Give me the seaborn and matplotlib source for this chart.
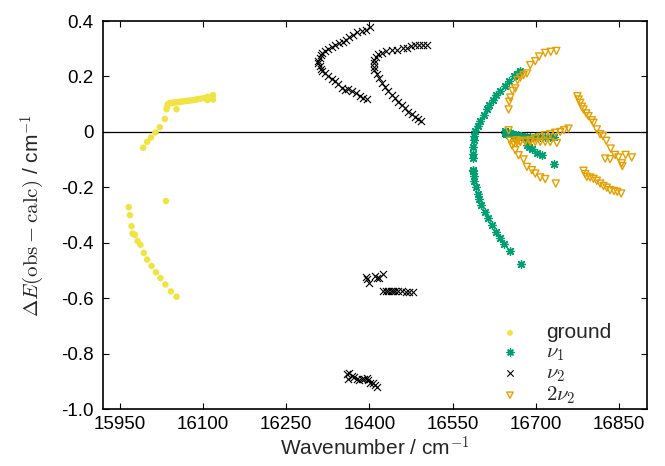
import pandas as pd
import seaborn as sns
import matplotlib.pyplot as plt

# (wavenumber / cm-1, obs - calc / cm-1)
ground = [
    (15992, -0.057), (15999, -0.036), (16006, -0.020), (16014, -0.002),
    (16022, 0.017), (16031, 0.047), (16034, 0.082), (16035, 0.090),
    (16036, 0.099), (16039, 0.103), (16042, 0.104), (16045, 0.105),
    (16048, 0.106), (16052, 0.107), (16055, 0.108), (16059, 0.109),
    (16063, 0.110), (16067, 0.111), (16071, 0.112), (16075, 0.113),
    (16080, 0.114), (16085, 0.116), (16090, 0.118), (16095, 0.120),
    (16101, 0.122), (16108, 0.127), (16108, 0.115), (16118, 0.133),
    (16118, 0.117), (16052, 0.082), (16033, -0.249),
    (15966, -0.271), (15968, -0.300), (15971, -0.340), (15973, -0.366),
    (15977, -0.371), (15982, -0.393), (15987, -0.407), (15993, -0.436),
    (15999, -0.460), (16007, -0.483), (16015, -0.506), (16023, -0.527),
    (16032, -0.550), (16042, -0.575), (16052, -0.594),
]

nu1 = [
    (16672, 0.220), (16666, 0.210), (16660, 0.201), (16652, 0.184),
    (16645, 0.165), (16636, 0.148), (16628, 0.133), (16622, 0.115),
    (16616, 0.097), (16612, 0.081), (16606, 0.061), (16600, 0.040),
    (16595, 0.021), (16591, 0.002), (16589, -0.015), (16588, -0.030),
    (16587, -0.056), (16586, -0.080), (16586, -0.093), (16586, -0.138),
    (16587, -0.142), (16589, -0.160), (16589, -0.176), (16592, -0.198),
    (16595, -0.222), (16598, -0.243), (16602, -0.264), (16608, -0.288),
    (16614, -0.312), (16621, -0.336), (16628, -0.360), (16635, -0.384),
    (16643, -0.405), (16653, -0.428), (16673, -0.477),
    (16644, 0.004), (16645, -0.004), (16647, -0.008), (16650, 0.000),
    (16653, -0.003), (16656, -0.006), (16659, -0.008), (16662, -0.010),
    (16665, -0.013), (16668, -0.012), (16671, -0.015), (16674, -0.016),
    (16677, -0.018), (16680, -0.017), (16684, -0.018), (16690, -0.020),
    (16699, -0.020), (16708, -0.018), (16717, -0.018), (16726, -0.018),
    (16732, -0.020),
    (16684, -0.048), (16688, -0.054), (16693, -0.060), (16702, -0.075),
    (16711, -0.084), (16732, -0.116),
]

nu2 = [
    # left arc
    (16401, 0.379), (16394, 0.369), (16387, 0.365), (16378, 0.359),
    (16371, 0.350), (16364, 0.343), (16358, 0.333), (16352, 0.326),
    (16345, 0.319), (16338, 0.312), (16332, 0.307), (16326, 0.300),
    (16320, 0.292), (16315, 0.283), (16312, 0.276), (16310, 0.266),
    (16308, 0.256), (16308, 0.247), (16310, 0.237), (16312, 0.228),
    (16315, 0.220), (16320, 0.211), (16326, 0.201), (16332, 0.192),
    (16338, 0.182), (16344, 0.172), (16350, 0.160), (16356, 0.153),
    (16362, 0.155), (16368, 0.148), (16376, 0.139), (16383, 0.130),
    (16389, 0.124), (16396, 0.118),
    # right arc
    (16503, 0.315), (16497, 0.315), (16490, 0.315), (16482, 0.313),
    (16475, 0.309), (16467, 0.304), (16460, 0.301), (16449, 0.297),
    (16440, 0.295), (16430, 0.291), (16422, 0.285), (16416, 0.280),
    (16411, 0.271), (16409, 0.261), (16408, 0.249), (16408, 0.235),
    (16409, 0.223), (16413, 0.208), (16418, 0.193), (16422, 0.177),
    (16428, 0.163), (16434, 0.148), (16440, 0.133), (16446, 0.121),
    (16452, 0.109), (16458, 0.097), (16464, 0.085), (16470, 0.073),
    (16476, 0.063), (16482, 0.054), (16488, 0.048), (16493, 0.040),
    # lower groups
    (16394, -0.522), (16396, -0.529), (16400, -0.546), (16410, -0.520),
    (16414, -0.528), (16418, -0.525), (16424, -0.513),
    (16425, -0.575), (16430, -0.574), (16434, -0.573), (16439, -0.572),
    (16443, -0.572), (16446, -0.575), (16452, -0.575), (16458, -0.575),
    (16466, -0.576), (16472, -0.576), (16478, -0.578),
    (16359, -0.873), (16364, -0.868), (16361, -0.889), (16368, -0.880),
    (16372, -0.883), (16377, -0.889), (16382, -0.895), (16386, -0.892),
    (16390, -0.889), (16395, -0.886), (16398, -0.895), (16401, -0.904),
    (16406, -0.907), (16410, -0.913), (16413, -0.919),
]

two_nu2 = [
    # upper arc
    (16737, 0.292), (16727, 0.289), (16717, 0.285), (16706, 0.272),
    (16699, 0.255), (16690, 0.241), (16684, 0.211), (16678, 0.205),
    (16672, 0.196), (16667, 0.187), (16663, 0.157), (16658, 0.148),
    (16654, 0.124), (16652, 0.109), (16651, 0.081),
    # near zero
    (16651, 0.006), (16759, 0.012), (16751, 0.006), (16744, 0.000),
    (16735, -0.003), (16726, -0.008), (16717, -0.012), (16708, -0.018),
    (16699, -0.024), (16690, -0.030), (16681, -0.032), (16672, -0.033),
    (16666, -0.030), (16654, -0.032), (16660, -0.041), (16666, -0.039),
    (16672, -0.036), (16681, -0.035), (16690, -0.036), (16699, -0.036),
    (16708, -0.036), (16717, -0.036), (16726, -0.036), (16738, -0.040),
    # lower-left branch
    (16657, -0.048), (16663, -0.066), (16669, -0.084), (16678, -0.099),
    (16684, -0.126), (16693, -0.138), (16699, -0.150), (16708, -0.164),
    (16717, -0.170), (16736, -0.186),
    # right arcs
    (16775, 0.129), (16777, 0.117), (16780, 0.105), (16783, 0.091),
    (16786, 0.081), (16791, 0.067), (16795, 0.057), (16801, 0.042),
    (16804, 0.033), (16810, 0.009), (16816, -0.008), (16821, -0.015),
    (16827, -0.032), (16835, -0.060), (16843, -0.083), (16849, -0.092),
    (16855, -0.113), (16856, -0.123), (16862, -0.083), (16873, -0.092),
    (16825, -0.096), (16834, -0.098),
    (16786, -0.140), (16789, -0.152), (16792, -0.162), (16798, -0.164),
    (16804, -0.169), (16810, -0.176), (16816, -0.186), (16822, -0.195),
    (16828, -0.201), (16834, -0.210), (16841, -0.213), (16847, -0.216),
    (16854, -0.222),
]

SERIES = {"ground": ground, r"$\nu_1$": nu1, r"$\nu_2$": nu2, r"$2\nu_2$": two_nu2}

X_TICKS = [15950, 16100, 16250, 16400, 16550, 16700, 16850]
Y_TICKS = [0.4, 0.2, 0.0, -0.2, -0.4, -0.6, -0.8, -1.0]
Y_TICK_LABELS = ["0.4", "0.2", "0", "-0.2", "-0.4", "-0.6", "-0.8", "-1.0"]

# marker style per state
STYLES = {
    "ground": dict(marker="o", color="#f0e442", s=22, edgecolor="none"),
    r"$\nu_1$": dict(marker=(8, 2, 0), color="#009e73", s=30, linewidth=1.0),
    r"$\nu_2$": dict(marker="x", color="black", s=26, linewidth=0.8),
    r"$2\nu_2$": dict(marker="v", color="#e69f00", s=26, facecolors="none",
                      edgecolor="#e69f00", linewidth=1.0),
}


def build_frame():
    rows = []
    for state, pts in SERIES.items():
        for x, y in pts:
            rows.append({"wavenumber": x, "delta": y, "state": state})
    return pd.DataFrame(rows)


def main():
    sns.set_style("ticks")
    plt.rcParams["font.family"] = ["Liberation Sans", "DejaVu Sans"]
    plt.rcParams["mathtext.fontset"] = "cm"
    plt.rcParams["xtick.direction"] = "in"
    plt.rcParams["ytick.direction"] = "in"

    df = build_frame()

    fig = plt.figure(figsize=(6.65, 4.66), dpi=100)
    ax = fig.add_axes([0.1553, 0.1217, 0.8172, 0.8332])

    ax.axhline(0, color="black", linewidth=0.9, zorder=1)
    for state in SERIES:
        sub = df[df["state"] == state]
        sns.scatterplot(data=sub, x="wavenumber", y="delta", ax=ax,
                        label=state, zorder=3, **STYLES[state])

    ax.set_xlim(15920, 16900)
    ax.set_ylim(-1.0, 0.4)
    ax.set_xticks(X_TICKS)
    ax.set_yticks(Y_TICKS)
    ax.set_yticklabels(Y_TICK_LABELS)
    ax.tick_params(axis="both", which="both", direction="in", top=True,
                   right=True, length=4, width=0.8, labelsize=13.5,
                   colors="black")
    ax.tick_params(axis="y", pad=7)
    ax.tick_params(axis="x", pad=5)
    for sp in ax.spines.values():
        sp.set_linewidth(1.2)
        sp.set_color("black")

    ax.set_xlabel(r"Wavenumber / cm$^{-1}$", fontsize=15, labelpad=2)
    ax.set_ylabel(r"$\Delta E(\mathrm{obs}-\mathrm{calc})$ / cm$^{-1}$",
                  fontsize=15, labelpad=10)

    ax.legend(loc="lower left", bbox_to_anchor=(0.71, -0.019), frameon=False,
              fontsize=15, borderpad=0, handlelength=1.0, handletextpad=1.25,
              labelspacing=0.02, markerscale=0.9)

    fig.savefig("out.png", dpi=100)
    plt.close(fig)


if __name__ == "__main__":
    main()
